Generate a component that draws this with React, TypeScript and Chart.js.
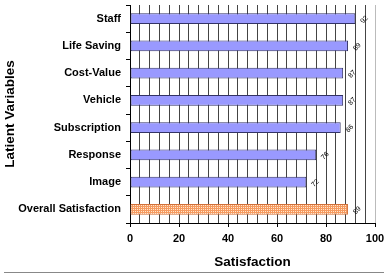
import React, { useEffect, useRef } from "react";
import { Chart, registerables } from "chart.js";

Chart.register(...registerables);

const categories = [
  "Staff",
  "Life Saving",
  "Cost-Value",
  "Vehicle",
  "Subscription",
  "Response",
  "Image",
  "Overall Satisfaction",
];
const satisfaction = [92, 89, 87, 87, 86, 76, 72, 89];
const xMin = 0;
const xMax = 100;
const gridStep = 4;
const labelStep = 20;

const FONT = "'Liberation Sans', Arial, sans-serif";

function makeDotPattern(): CanvasPattern | string {
  const c = document.createElement("canvas");
  c.width = 2;
  c.height = 2;
  const g = c.getContext("2d");
  if (!g) return "#F7B084";
  g.fillStyle = "#F59A60";
  g.fillRect(0, 0, 2, 2);
  g.fillStyle = "#FFE6CC";
  g.fillRect(1, 1, 1, 1);
  const p = g.createPattern(c, "repeat");
  return p || "#F7B084";
}

// Rotated value text beside each bar end
const valueLabels = {
  id: "valueLabels",
  afterDatasetsDraw(chart: any) {
    const { ctx } = chart;
    const meta = chart.getDatasetMeta(0);
    ctx.save();
    ctx.font = `7px ${FONT}`;
    ctx.fillStyle = "#000";
    ctx.textAlign = "center";
    ctx.textBaseline = "middle";
    meta.data.forEach((bar: any, i: number) => {
      ctx.save();
      ctx.translate(bar.x + 9, bar.y + 1);
      ctx.rotate(-Math.PI / 4);
      ctx.fillText(String(satisfaction[i]), 0, 0);
      ctx.restore();
    });
    ctx.restore();
  },
};

// Right frame of the plot and a thin rule along the bottom edge
const frame = {
  id: "frame",
  beforeDatasetsDraw(chart: any) {
    const { ctx, chartArea } = chart;
    ctx.save();
    ctx.strokeStyle = "#BBBBBB";
    ctx.lineWidth = 1;
    ctx.beginPath();
    ctx.moveTo(Math.round(chartArea.right) + 0.5, chartArea.top);
    ctx.lineTo(Math.round(chartArea.right) + 0.5, chartArea.bottom);
    ctx.stroke();
    ctx.restore();
  },
  afterDraw(chart: any) {
    const { ctx, width, height } = chart;
    ctx.save();
    ctx.strokeStyle = "#888888";
    ctx.lineWidth = 1;
    ctx.beginPath();
    ctx.moveTo(4, height - 2.5);
    ctx.lineTo(width, height - 2.5);
    ctx.stroke();
    ctx.restore();
  },
};

export default function App() {
  const ref = useRef<HTMLCanvasElement>(null);

  useEffect(() => {
    if (!ref.current) return;
    const pattern = makeDotPattern();
    const bg = satisfaction.map((_, i) =>
      i === satisfaction.length - 1 ? pattern : "#9999FF"
    );
    const border = satisfaction.map((_, i) =>
      i === satisfaction.length - 1 ? "#D0703A" : "#333366"
    );
    const chart = new Chart(ref.current, {
      type: "bar",
      data: {
        labels: categories,
        datasets: [
          {
            data: satisfaction,
            backgroundColor: bg as any,
            borderColor: border,
            borderWidth: 1,
            borderSkipped: false,
            categoryPercentage: 1,
            barPercentage: 0.4,
          },
        ],
      },
      options: {
        indexAxis: "y",
        responsive: false,
        animation: false,
        layout: { padding: { top: 5, right: 9, left: 0, bottom: 0 } },
        plugins: {
          legend: { display: false },
          tooltip: { enabled: false },
        },
        scales: {
          x: {
            min: xMin,
            max: xMax,
            border: { color: "#000", width: 1 },
            grid: {
              color: "#444444",
              lineWidth: 1,
              drawTicks: true,
              tickLength: 4,
              tickColor: (c: any) =>
                c.tick && c.tick.value % labelStep === 0 ? "#000" : "rgba(0,0,0,0)",
            },
            ticks: {
              stepSize: gridStep,
              autoSkip: false,
              maxRotation: 0,
              padding: 5,
              color: "#000",
              font: { family: FONT, size: 11, weight: "bold" },
              callback: (v: any) => (Number(v) % labelStep === 0 ? String(v) : ""),
            },
            title: {
              display: true,
              text: "Satisfaction",
              color: "#000",
              font: { family: FONT, size: 13.5, weight: "bold" },
              padding: { top: 0, bottom: 5 },
            },
            afterFit: (s: any) => {
              s.height = 52;
              s.paddingLeft = 0;
              s.paddingRight = 0;
            },
          },
          y: {
            border: { color: "#000", width: 1 },
            grid: {
              drawOnChartArea: false,
              offset: true,
              tickLength: 4,
              tickColor: "#000",
            },
            ticks: {
              padding: 5,
              color: "#000",
              font: { family: FONT, size: 11, weight: "bold" },
            },
            title: {
              display: true,
              text: "Latient Variables",
              color: "#000",
              font: { family: FONT, size: 13.5, weight: "bold" },
              padding: { top: 2, bottom: 0 },
            },
            afterFit: (s: any) => {
              s.width = 130;
              s.paddingTop = 0;
              s.paddingBottom = 0;
            },
          },
        },
      },
      plugins: [valueLabels, frame],
    });
    return () => chart.destroy();
  }, []);

  return (
    <div style={{ position: "absolute", left: 0, top: 0, width: 384, height: 275, background: "#fff" }}>
      <canvas ref={ref} width={384} height={275} />
    </div>
  );
}
